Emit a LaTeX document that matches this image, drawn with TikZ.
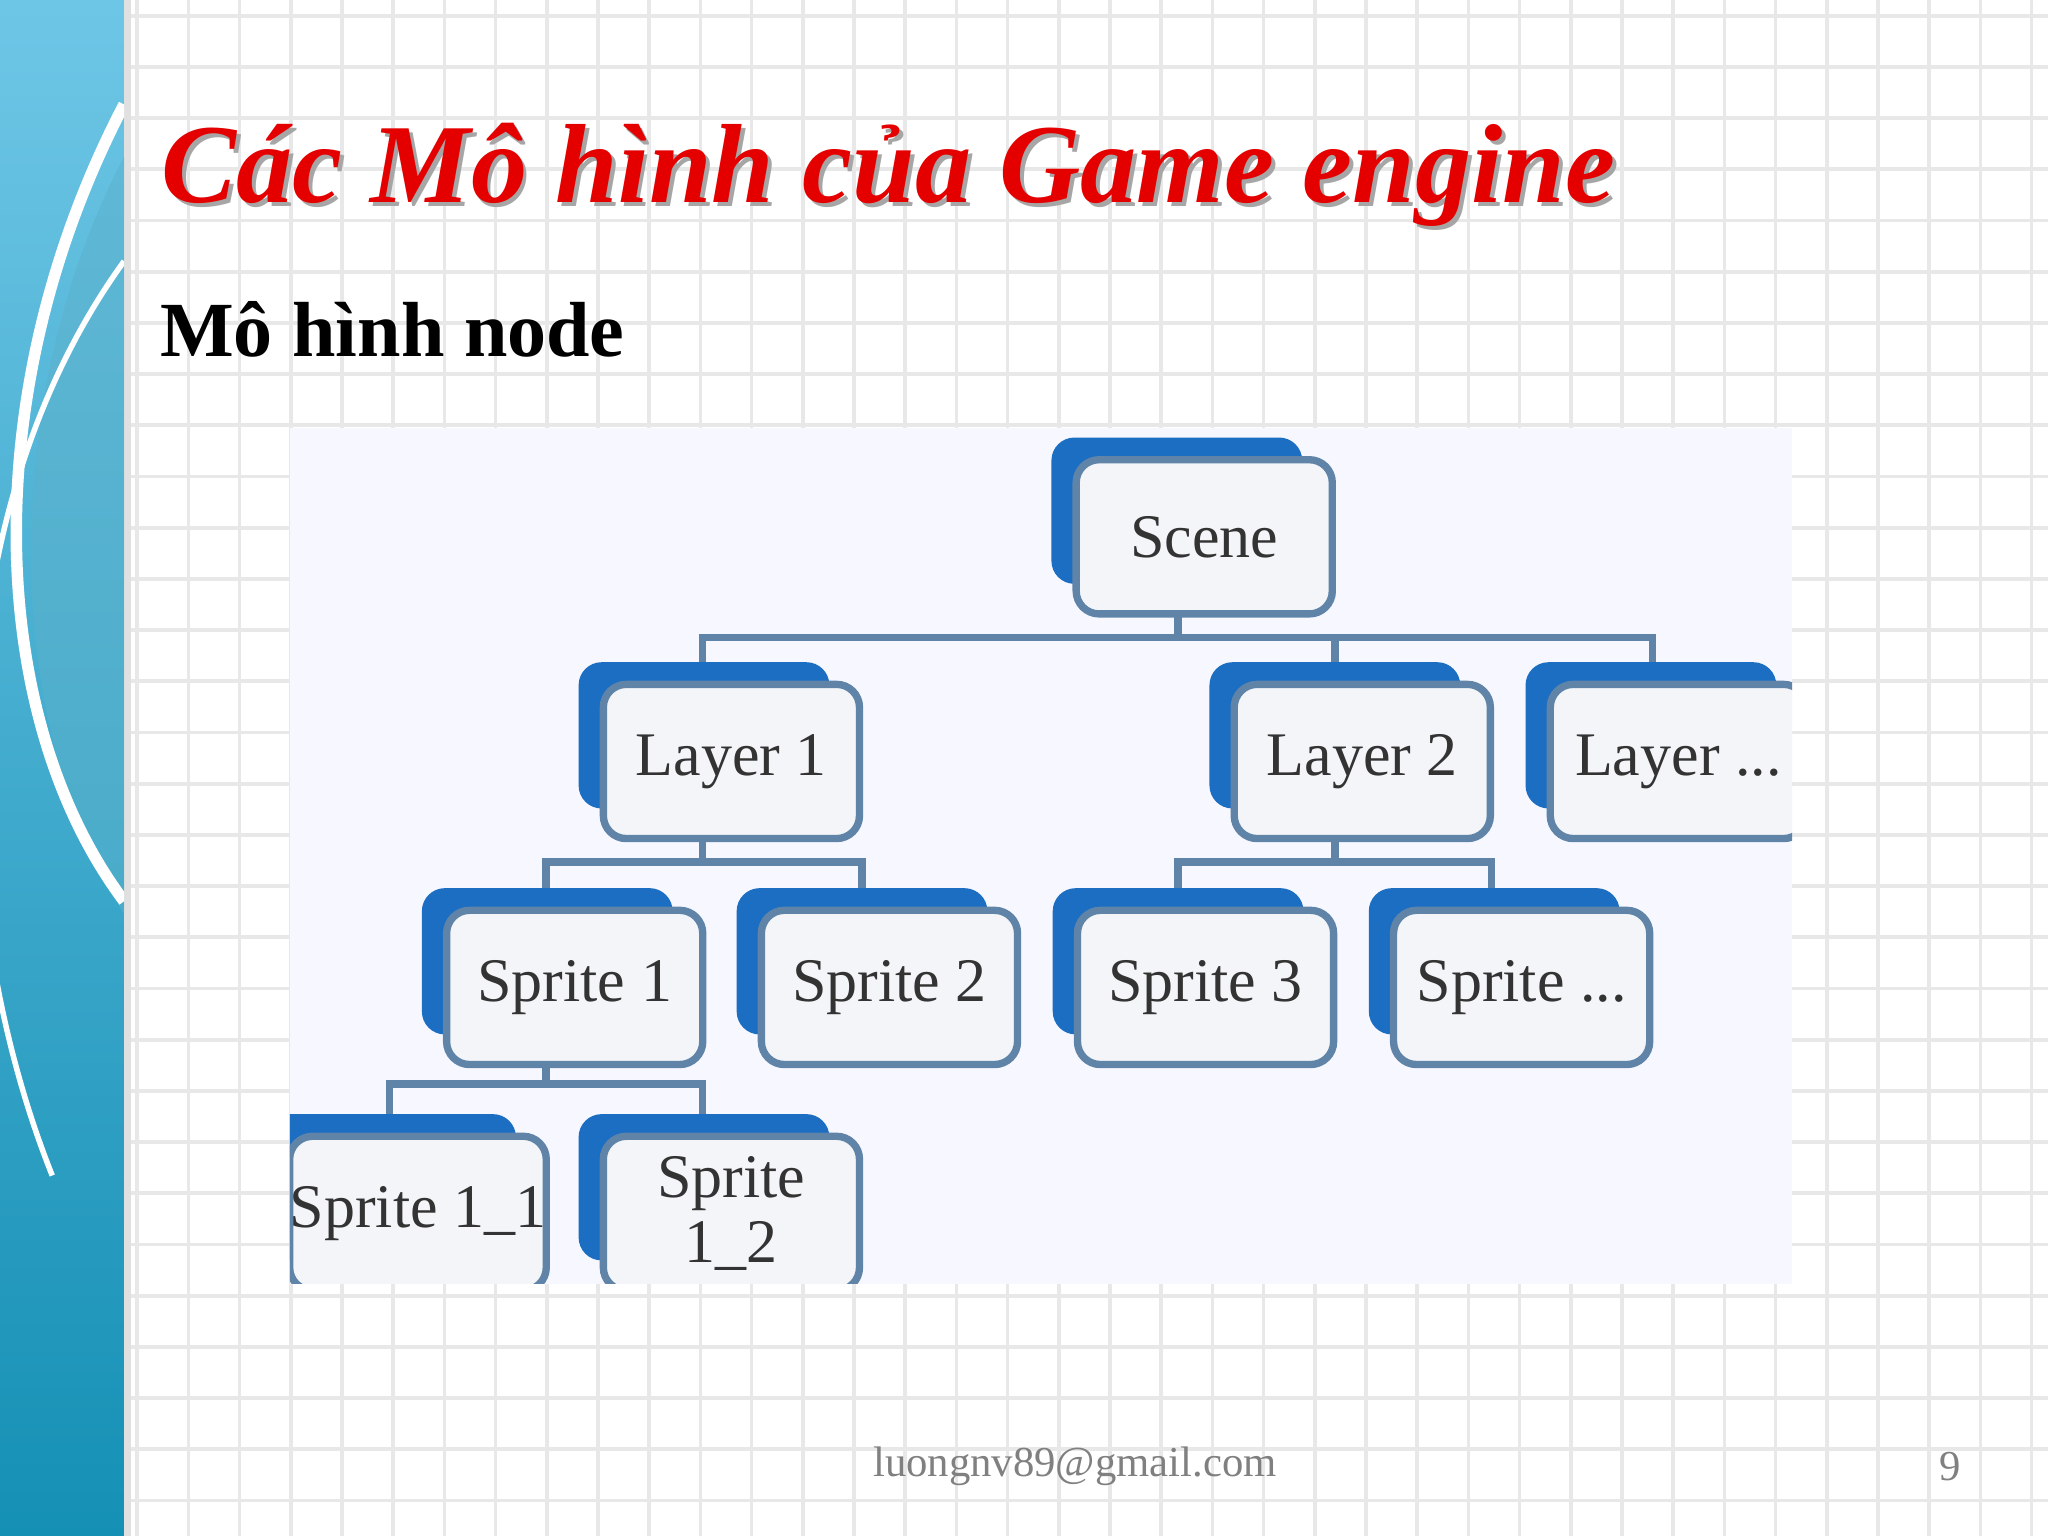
\documentclass[tikz,border=0pt]{standalone}
\usepackage{fontspec}
\setmainfont{Liberation Serif}
\usetikzlibrary{calc}
\definecolor{bk}{HTML}{1B6EC2}
\definecolor{bd}{HTML}{5F84A8}
\definecolor{fr}{HTML}{F3F5F8}
\definecolor{gridc}{HTML}{E8E8E8}
\definecolor{bandtop}{HTML}{6EC6E6}
\definecolor{bandbot}{HTML}{1590B5}
\tikzset{
 front/.style={draw=bd,line width=1.6pt,fill=fr,rounded corners=5pt,minimum width=1.96cm,minimum height=1.18cm,inner sep=0pt,font=\fontsize{13.5}{14}\selectfont,text=black!80,align=center},
 conn/.style={draw=bd,line width=1.6pt},
}
\newcommand{\bx}[4]{%
 \fill[bk,rounded corners=5pt] (#2-19,#3-17) rectangle ++(192,112);
 \node[front] (#1) at (#2+98,#3+59) {#4};}
\begin{document}
\begin{tikzpicture}[x=0.01cm,y=-0.01cm]
\useasboundingbox (0,0) rectangle (1568,1176);
\fill[white] (0,0) rectangle (1568,1176);
\foreach \i in {0,...,40} {\draw[gridc,line width=0.8pt] (105+\i*39.2,0) -- ++(0,1176);}
\foreach \i in {0,...,30} {\draw[gridc,line width=0.8pt] (0,12+\i*39.2) -- ++(1568,0);}
% left band
\shade[top color=bandtop, bottom color=bandbot] (0,0) rectangle (95,1176);
\fill[black!12] (95,0) rectangle (100,1176);
\begin{scope}
\clip (0,0) rectangle (95,1176);
\fill[bandbot!70,opacity=0.5] (95,120) .. controls (0,300) and (0,550) .. (95,700) -- cycle;
\draw[white,line width=2.5pt] (95,80) .. controls (-20,300) and (-10,550) .. (95,690);
\draw[white,line width=1.2pt] (95,200) .. controls (-50,400) and (-40,700) .. (40,900);
\end{scope}
% title
\node[anchor=base west,inner sep=0pt,text=black!35,font=\fontsize{24.5}{26}\selectfont\bfseries\itshape] at (126,158) {Các Mô hình của Game engine};
\node[anchor=base west,inner sep=0pt,text=red!90!black,font=\fontsize{24.5}{26}\selectfont\bfseries\itshape] (title) at (123,155) {Các Mô hình của Game engine};
\node[anchor=base west,inner sep=0pt,font=\fontsize{17}{20}\selectfont\bfseries] (sub) at (122,273) {Mô hình node};
% diagram
\fill[white!97!blue] (222,328) rectangle (1372,983);
\begin{scope}
\clip (222,328) rectangle (1372,983);
\draw[conn] (902,470) -- (902,488);
\draw[conn] (538,508) -- (538,488) -- (1265,488) -- (1265,508);
\draw[conn] (1022,488) -- (1022,508);
\draw[conn] (538,642) -- (538,660);
\draw[conn] (418,680) -- (418,660) -- (660,660) -- (660,680);
\draw[conn] (1022,642) -- (1022,660);
\draw[conn] (902,680) -- (902,660) -- (1142,660) -- (1142,680);
\draw[conn] (418,815) -- (418,830);
\draw[conn] (298,853) -- (298,830) -- (538,830) -- (538,853);
\bx{scene}{824}{352}{Scene}
\bx{l1}{462}{524}{Layer 1}
\bx{l2}{945}{524}{Layer 2}
\bx{l3}{1187}{524}{Layer ...}
\bx{s1}{342}{697}{Sprite 1}
\bx{s2}{583}{697}{Sprite 2}
\bx{s3}{825}{697}{Sprite 3}
\bx{s4}{1067}{697}{Sprite ...}
\bx{s11}{222}{870}{Sprite 1\_1}
\bx{s12}{462}{870}{Sprite\\1\_2}
\end{scope}
% footer
\node[text=black!50,font=\fontsize{9.3}{11}\selectfont] (mail) at (823,1123) {luongnv89@gmail.com};
\node[text=black!50,font=\fontsize{9.3}{11}\selectfont] (pg) at (1493,1123) {9};
\end{tikzpicture}
\end{document}
